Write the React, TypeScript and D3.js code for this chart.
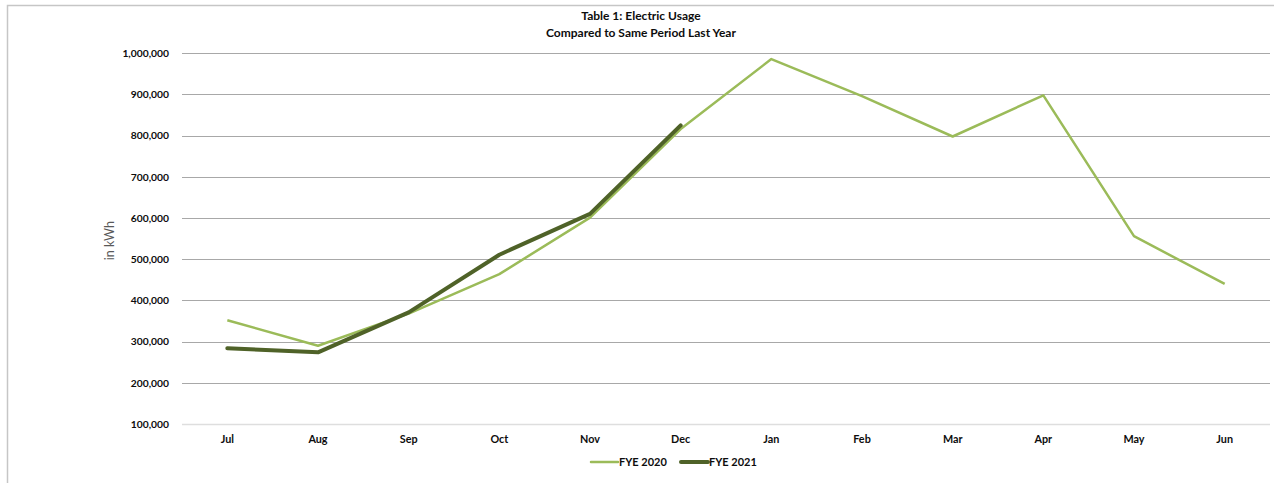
import React, { useRef, useEffect } from 'react';
import * as d3 from 'd3';

const months = ['Jul', 'Aug', 'Sep', 'Oct', 'Nov', 'Dec', 'Jan', 'Feb', 'Mar', 'Apr', 'May', 'Jun'];
const fye2020 = [352000, 290000, 368000, 464000, 601000, 816000, 986000, 896000, 798000, 898000, 556000, 440000];
const fye2021 = [284000, 274000, 371000, 511000, 610000, 825000];
const yTicks = [100000, 200000, 300000, 400000, 500000, 600000, 700000, 800000, 900000, 1000000];

const W = 1274;
const H = 483;
const FONT = 'Lato, "Open Sans", sans-serif';
const INK = '#0d0d0d';

const App: React.FC = () => {
  const ref = useRef<SVGSVGElement | null>(null);

  useEffect(() => {
    const svg = d3.select(ref.current);
    svg.selectAll('*').remove();

    const left = 182, right = 1270, top = 53.3, bottom = 424;

    const x = d3.scaleBand().domain(months).range([left, right]);
    const y = d3.scaleLinear().domain([100000, 1000000]).range([bottom, top]);

    // chart frame (extends past the window)
    svg.append('rect')
      .attr('x', 7.5).attr('y', 5.5)
      .attr('width', W + 20).attr('height', H + 20)
      .attr('fill', 'white')
      .attr('stroke', '#c6c6c6')
      .attr('stroke-width', 1.5);

    const title = ['Table 1: Electric Usage', 'Compared to Same Period Last Year'];
    svg.append('g')
      .selectAll('text')
      .data(title)
      .join('text')
      .attr('x', 641)
      .attr('y', (_, i) => 20 + i * 17)
      .attr('text-anchor', 'middle')
      .attr('font-family', FONT).attr('font-weight', 'bold').attr('font-size', 12)
      .attr('fill', INK)
      .text(d => d);

    // gridlines
    svg.append('g')
      .selectAll('line')
      .data(yTicks)
      .join('line')
      .attr('x1', left).attr('x2', right)
      .attr('y1', d => Math.round(y(d)) + 0.5)
      .attr('y2', d => Math.round(y(d)) + 0.5)
      .attr('stroke', d => d === 100000 ? '#dedede' : '#a8a8a8')
      .attr('stroke-width', d => d === 100000 ? 1.5 : 1);

    // y tick labels
    svg.append('g')
      .selectAll('text')
      .data(yTicks)
      .join('text')
      .attr('x', 169)
      .attr('y', d => y(d) + 3.8)
      .attr('text-anchor', 'end')
      .attr('font-family', FONT).attr('font-weight', 'bold').attr('font-size', 10.3)
      .attr('fill', INK)
      .text(d => d3.format(',')(d));

    // x labels
    svg.append('g')
      .selectAll('text')
      .data(months)
      .join('text')
      .attr('x', d => (x(d) ?? 0) + x.bandwidth() / 2)
      .attr('y', 443)
      .attr('text-anchor', 'middle')
      .attr('font-family', FONT).attr('font-weight', 'bold').attr('font-size', 10.8)
      .attr('fill', INK)
      .text(d => d);

    svg.append('text')
      .attr('transform', `translate(114,${(top + bottom) / 2 + 2}) rotate(-90)`)
      .attr('text-anchor', 'middle')
      .attr('font-family', FONT).attr('font-size', 12.5)
      .attr('fill', '#595959')
      .text('in kWh');

    const line = d3.line<number>()
      .x((_, i) => (x(months[i]) ?? 0) + x.bandwidth() / 2)
      .y(d => y(d));

    svg.append('path')
      .datum(fye2020)
      .attr('d', line)
      .attr('fill', 'none')
      .attr('stroke', '#9bbb59')
      .attr('stroke-width', 2.5)
      .attr('stroke-linejoin', 'round');

    svg.append('path')
      .datum(fye2021)
      .attr('d', line)
      .attr('fill', 'none')
      .attr('stroke', '#4f6228')
      .attr('stroke-width', 4)
      .attr('stroke-linejoin', 'round')
      .attr('stroke-linecap', 'round');

    // legend
    const legend = [
      { name: 'FYE 2020', color: '#9bbb59', width: 2.5, x: 591 },
      { name: 'FYE 2021', color: '#4f6228', width: 4, x: 681 },
    ];
    const lg = svg.append('g').selectAll('g').data(legend).join('g')
      .attr('transform', d => `translate(${d.x},462)`);
    lg.append('line')
      .attr('x1', 0).attr('x2', 27)
      .attr('stroke', d => d.color)
      .attr('stroke-width', d => d.width)
      .attr('stroke-linecap', 'round');
    lg.append('text')
      .attr('x', 28).attr('y', 4)
      .attr('font-family', FONT).attr('font-weight', 'bold').attr('font-size', 11)
      .attr('fill', INK)
      .text(d => d.name);
  }, []);

  return (
    <svg
      ref={ref}
      width={W}
      height={H}
      style={{ position: 'absolute', left: 0, top: 0, display: 'block' }}
    />
  );
};

export default App;
